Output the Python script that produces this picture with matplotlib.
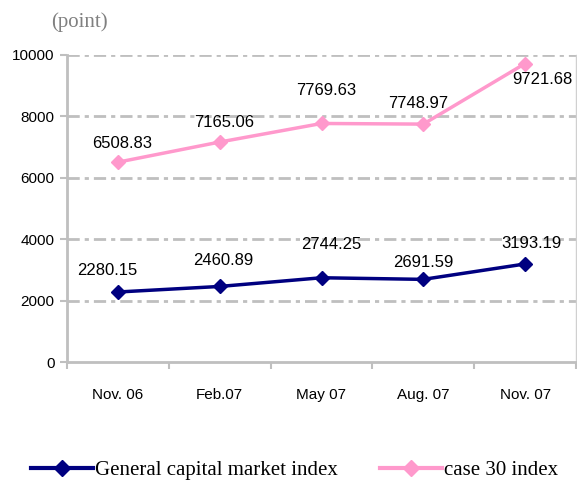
import matplotlib.pyplot as plt
from matplotlib.lines import Line2D

# data
periods = ['Nov. 06', 'Feb.07', 'May 07', 'Aug. 07', 'Nov. 07']
general_idx = [2280.15, 2460.89, 2744.25, 2691.59, 3193.19]
case30_idx = [6508.83, 7165.06, 7769.63, 7748.97, 9721.68]

# label offsets in pixels (dx, dy) from each marker
off_general = [(-11, 21), (4, 26), (10, 33), (0, 17), (6, 20)]
off_case30 = [(4, 19), (4, 20), (5, 33), (-5, 21), (17, -16)]

navy = '#000080'
pink = '#ff99cc'
gray = '#bfbfbf'

fig = plt.figure(figsize=(5.77, 4.82), dpi=100)
ax = fig.add_axes([67 / 577, 120 / 482, 509 / 577, 307 / 482])

x = list(range(len(periods)))
ax.plot(x, general_idx, color=navy, lw=2.5, marker='D', ms=7.5, zorder=3)
ax.plot(x, case30_idx, color=pink, lw=2.5, marker='D', ms=7.5, zorder=3)

for i, v in enumerate(general_idx):
    ax.annotate(f'{v:.2f}', (i, v), xytext=off_general[i], textcoords='offset pixels',
                ha='center', va='center', fontsize=12, family='Liberation Sans')
for i, v in enumerate(case30_idx):
    ax.annotate(f'{v:.2f}', (i, v), xytext=off_case30[i], textcoords='offset pixels',
                ha='center', va='center', fontsize=12, family='Liberation Sans')

ax.set_xlim(-0.5, len(periods) - 0.5)
ax.set_ylim(0, 10000)
ax.set_yticks(range(0, 10001, 2000))
ax.set_xticks(x)
ax.set_xticklabels(periods, fontsize=11, family='Liberation Sans')
ax.set_xticks([i - 0.5 for i in range(len(periods) + 1)], minor=True)
ax.tick_params(axis='x', which='major', length=0, pad=19)
ax.tick_params(axis='x', which='minor', length=5, width=1.5, color=gray)
ax.tick_params(axis='y', length=5, width=1.5, color=gray, labelsize=11, pad=4)
for lab in ax.get_yticklabels():
    lab.set_family('Liberation Sans')

for yv in range(2000, 10001, 2000):
    ax.axhline(yv, color=gray, lw=2, dashes=(4.4, 1.8, 1.5, 1.8), zorder=1)

for s in ['left', 'bottom']:
    ax.spines[s].set_color(gray)
    ax.spines[s].set_linewidth(2)
ax.spines['top'].set_visible(False)
ax.spines['right'].set_color('#d0d0d0')
ax.spines['right'].set_linewidth(1)

fig.text(51 / 577, 1 - 22 / 482, '(point)', fontsize=15, color='#808080',
         family='Liberation Serif', va='center', ha='left')

handles = [
    Line2D([], [], color=navy, lw=3, marker='D', ms=8),
    Line2D([], [], color=pink, lw=3, marker='D', ms=8),
]
fig.legend(handles, ['General capital market index', 'case 30 index'],
           loc='center', bbox_to_anchor=(0.5 + 6 / 577, 12 / 482), ncol=2, frameon=False,
           prop={'family': 'Liberation Serif', 'size': 15},
           handlelength=3, handletextpad=0.1, columnspacing=2.0, borderaxespad=0)

fig.savefig('out.png', dpi=100)
